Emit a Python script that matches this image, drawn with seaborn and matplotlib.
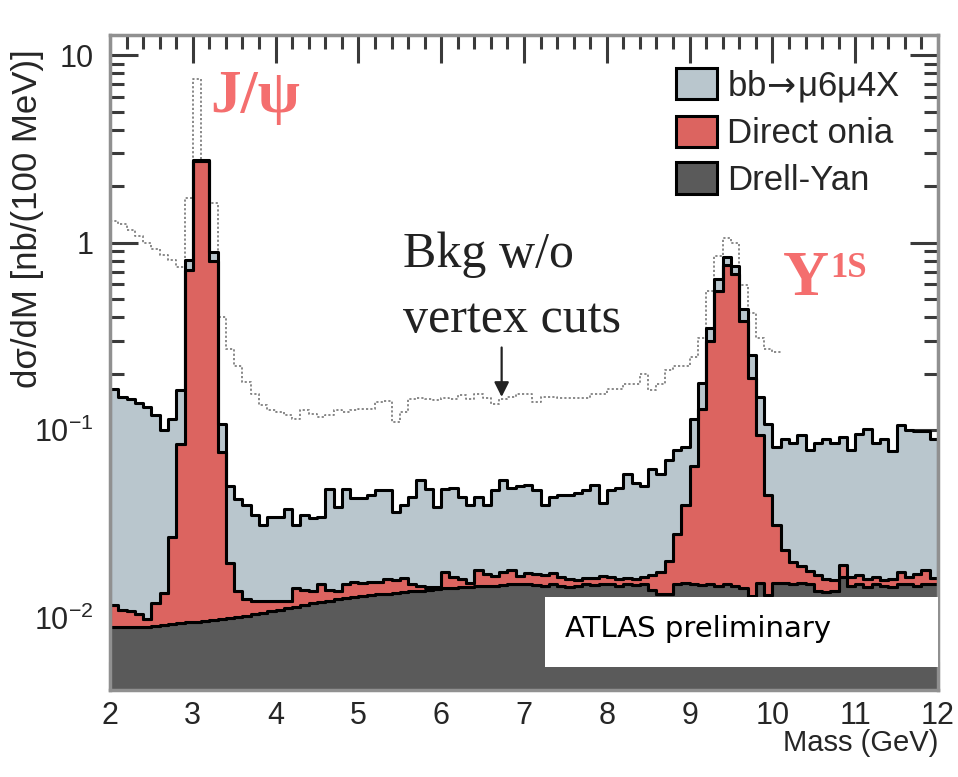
import numpy as np
import pandas as pd
import matplotlib
matplotlib.use("Agg")
import matplotlib.pyplot as plt
from matplotlib.patches import Patch, Rectangle
from matplotlib.ticker import FixedLocator, LogLocator, MultipleLocator, NullFormatter
import seaborn as sns

# ---- binning: 100 MeV bins between 2 and 12 GeV ----
mass_lo, mass_hi, n_bins = 2.0, 12.0, 100

# cumulative (stacked) heights per bin, nb/(100 MeV)
total_top = [0.165, 0.150, 0.146, 0.140, 0.133, 0.120, 0.100, 0.114, 0.163, 0.81,
             2.75, 2.75, 0.89, 0.107, 0.050, 0.043, 0.040, 0.035, 0.031, 0.0345,
             0.0345, 0.038, 0.031, 0.035, 0.034, 0.0345, 0.0486, 0.039, 0.0486, 0.0435,
             0.0435, 0.045, 0.048, 0.048, 0.0366, 0.040, 0.044, 0.054, 0.0486, 0.039,
             0.0486, 0.049, 0.044, 0.040, 0.044, 0.040, 0.048, 0.054, 0.049, 0.050,
             0.051, 0.048, 0.040, 0.044, 0.045, 0.045, 0.046, 0.048, 0.051, 0.041,
             0.048, 0.049, 0.058, 0.052, 0.050, 0.062, 0.058, 0.069, 0.078, 0.081,
             0.114, 0.178, 0.35, 0.64, 0.84, 0.75, 0.44, 0.25, 0.15, 0.107,
             0.081, 0.089, 0.085, 0.094, 0.078, 0.085, 0.090, 0.085, 0.092, 0.078,
             0.095, 0.101, 0.085, 0.090, 0.077, 0.106, 0.100, 0.099, 0.099, 0.089]

onia_top = [0.0117, 0.0110, 0.0108, 0.0104, 0.0098, 0.0120, 0.0135, 0.027, 0.084, 0.71,
            2.72, 2.72, 0.80, 0.076, 0.0196, 0.0138, 0.0126, 0.0122, 0.0122, 0.0123,
            0.0122, 0.0122, 0.0143, 0.0140, 0.0138, 0.0150, 0.0140, 0.0138, 0.0150, 0.0155,
            0.0152, 0.0155, 0.0155, 0.0160, 0.0158, 0.0162, 0.0150, 0.0147, 0.0146, 0.0146,
            0.0175, 0.0165, 0.0160, 0.0152, 0.0180, 0.0170, 0.0166, 0.0175, 0.0180, 0.0166,
            0.0172, 0.0170, 0.0168, 0.0172, 0.0165, 0.0160, 0.0158, 0.0163, 0.0162, 0.0166,
            0.0164, 0.0160, 0.0163, 0.0160, 0.0165, 0.0168, 0.0175, 0.0200, 0.028, 0.040,
            0.064, 0.130, 0.30, 0.55, 0.76, 0.68, 0.38, 0.19, 0.094, 0.045,
            0.031, 0.023, 0.0198, 0.0187, 0.0176, 0.0168, 0.0160, 0.0158, 0.0190, 0.0165,
            0.0168, 0.0160, 0.0165, 0.0158, 0.0160, 0.0175, 0.0165, 0.0170, 0.0180, 0.0162]

drell_yan = [0.0089, 0.0089, 0.0089, 0.0089, 0.0089, 0.0090, 0.0091, 0.0092, 0.0093, 0.0094,
             0.0095, 0.0096, 0.0097, 0.0098, 0.0099, 0.0100, 0.0102, 0.0104, 0.0106, 0.0108,
             0.0110, 0.0112, 0.0114, 0.0116, 0.0119, 0.0121, 0.0123, 0.0125, 0.0127, 0.0129,
             0.0130, 0.0131, 0.0133, 0.0134, 0.0135, 0.0137, 0.0138, 0.0139, 0.0140, 0.0142,
             0.0143, 0.0144, 0.0145, 0.0146, 0.0147, 0.0148, 0.0148, 0.0149, 0.0150, 0.0150,
             0.0151, 0.0149, 0.0148, 0.0150, 0.0147, 0.0146, 0.0148, 0.0150, 0.0149, 0.0151,
             0.0150, 0.0148, 0.0150, 0.0149, 0.0150, 0.0140, 0.0134, 0.0134, 0.0150, 0.0152,
             0.0150, 0.0149, 0.0150, 0.0148, 0.0150, 0.0148, 0.0143, 0.0130, 0.0152, 0.0132,
             0.0152, 0.0152, 0.0151, 0.0152, 0.0150, 0.0138, 0.0137, 0.0138, 0.0165, 0.0148,
             0.0150, 0.0146, 0.0150, 0.0148, 0.0146, 0.0150, 0.0150, 0.0148, 0.0150, 0.0150]

# background before vertex cuts (first 81 bins)
bkg_no_vertex = [1.31, 1.25, 1.17, 1.09, 1.00, 0.92, 0.86, 0.81, 0.74, 1.73,
                 7.5, 2.6, 1.63, 0.40, 0.27, 0.22, 0.18, 0.155, 0.136, 0.128,
                 0.125, 0.120, 0.114, 0.128, 0.122, 0.118, 0.120, 0.128, 0.125, 0.128,
                 0.129, 0.129, 0.141, 0.143, 0.110, 0.125, 0.146, 0.148, 0.146, 0.144,
                 0.148, 0.146, 0.153, 0.146, 0.155, 0.148, 0.138, 0.146, 0.150, 0.155,
                 0.155, 0.141, 0.150, 0.150, 0.148, 0.148, 0.148, 0.148, 0.155, 0.155,
                 0.165, 0.165, 0.175, 0.175, 0.200, 0.163, 0.175, 0.210, 0.220, 0.220,
                 0.245, 0.31, 0.55, 0.85, 1.06, 1.00, 0.59, 0.42, 0.31, 0.27,
                 0.26]

processes = ["bb$\\!\\rightarrow\\!$\u03bc6\u03bc4X", "Direct onia", "Drell-Yan"]
colors = ["#b9c6cd", "#dc6460", "#5a5a5a"]

yticks = [0.01, 0.1, 1, 10]
ytick_labels = [r"$10^{-2}$", r"$10^{-1}$", "1", "10"]

# ---- style ----
sns.set_theme(style="ticks")
plt.rcParams["font.family"] = ["Liberation Sans", "DejaVu Sans"]
plt.rcParams["mathtext.fontset"] = "custom"
plt.rcParams["mathtext.rm"] = "Liberation Sans"
plt.rcParams["mathtext.it"] = "Liberation Sans:italic"
plt.rcParams["mathtext.bf"] = "Liberation Sans:bold"

# ---- components of the stack ----
bin_w = (mass_hi - mass_lo) / n_bins
centers = mass_lo + bin_w * (np.arange(n_bins) + 0.5)
tot = np.array(total_top)
on = np.array(onia_top)
dy = np.array(drell_yan)
components = [tot - on, on - dy, dy]

df = pd.DataFrame({
    "mass": np.tile(centers, 3),
    "xsec": np.concatenate(components),
    "process": np.repeat(processes, n_bins),
})

fig = plt.figure(figsize=(9.58, 7.77), dpi=100)
ax = fig.add_axes([110 / 958, 87 / 777, 828 / 958, 655 / 777])

# dotted background without vertex cuts
n_bkg = len(bkg_no_vertex)
sns.histplot(x=centers[:n_bkg], weights=bkg_no_vertex, bins=n_bkg,
             binrange=(mass_lo, mass_lo + bin_w * n_bkg), element="step", fill=False,
             color="#808080", linestyle=(0, (1.2, 1.2)), linewidth=1.3, ax=ax, zorder=0.8)

# stacked histograms
sns.histplot(data=df, x="mass", weights="xsec", hue="process", hue_order=processes,
             multiple="stack", bins=n_bins, binrange=(mass_lo, mass_hi), element="step",
             palette=colors, alpha=1, edgecolor="black", linewidth=2.2, legend=False, ax=ax)

ax.set_yscale("log")
ax.set_xlim(mass_lo, mass_hi)
ax.set_ylim(0.0041, 12.8)

ax.xaxis.set_major_locator(MultipleLocator(1))
ax.xaxis.set_minor_locator(MultipleLocator(0.2))
ax.yaxis.set_major_locator(FixedLocator(yticks))
ax.set_yticklabels(ytick_labels)
ax.yaxis.set_minor_locator(LogLocator(base=10, subs=np.arange(2, 10)))
ax.yaxis.set_minor_formatter(NullFormatter())
ax.tick_params(which="both", direction="in", top=True, right=True, color="#3a3a3a", width=2.2)
ax.tick_params(which="major", length=20, labelsize=22)
ax.tick_params(axis="x", which="major", pad=8)
ax.tick_params(axis="y", which="major", pad=12)
ax.tick_params(which="minor", length=10)
for sp in ax.spines.values():
    sp.set_color("#909090")
    sp.set_linewidth(2.5)

ax.set_xlabel("Mass (GeV)", fontsize=21, loc="right")
ax.xaxis.set_label_coords(1.0, -0.06)
ax.set_ylabel("d\u03c3/dM [nb/(100 MeV)]", fontsize=25)
ax.yaxis.set_label_coords(-0.08, 0.72)

# legend
handles = [Patch(facecolor=c, edgecolor="black", linewidth=2.2) for c in colors]
leg = ax.legend(handles, processes, loc="upper left", bbox_to_anchor=(0.684, 0.95),
                frameon=False, fontsize=25, handlelength=1.18, handleheight=1.0,
                handletextpad=0.28, labelspacing=0.35, borderpad=0, borderaxespad=0)
for t in leg.get_texts():
    t.set_math_fontfamily("dejavusans")

# resonance labels
red_txt = "#f46e6e"
serif = ["Liberation Serif", "DejaVu Serif"]
ax.text(0.121, 0.882, "J/\u03c8", transform=ax.transAxes, color=red_txt, fontsize=44,
        fontweight="bold", family=serif, va="baseline", ha="left")
ax.text(0.813, 0.603, "Y", transform=ax.transAxes, color=red_txt, fontsize=46,
        fontweight="bold", family=serif, va="baseline", ha="left")
ax.text(0.870, 0.630, "1S", transform=ax.transAxes, color=red_txt, fontsize=25,
        fontweight="bold", family=serif, va="baseline", ha="left")

# background annotation and arrow
ax.text(0.354, 0.646, "Bkg w/o", transform=ax.transAxes, color="#222222", fontsize=36,
        family=serif, va="baseline", ha="left")
ax.text(0.354, 0.547, "vertex cuts", transform=ax.transAxes, color="#222222", fontsize=36,
        family=serif, va="baseline", ha="left")
ax.annotate("", xy=(6.73, 0.145), xytext=(6.73, 0.285),
            arrowprops=dict(arrowstyle="-|>", color="#222222", lw=1.6, mutation_scale=22))

# experiment tag
ax.add_patch(Rectangle((0.525, 0.035), 0.475, 0.107, transform=ax.transAxes,
                       facecolor="white", edgecolor="none", zorder=3))
ax.text(0.5495, 0.093, "ATLAS preliminary", transform=ax.transAxes, fontsize=21,
        family=["DejaVu Sans"], va="center", ha="left", color="black", zorder=4)

fig.savefig("out.png", dpi=100)
